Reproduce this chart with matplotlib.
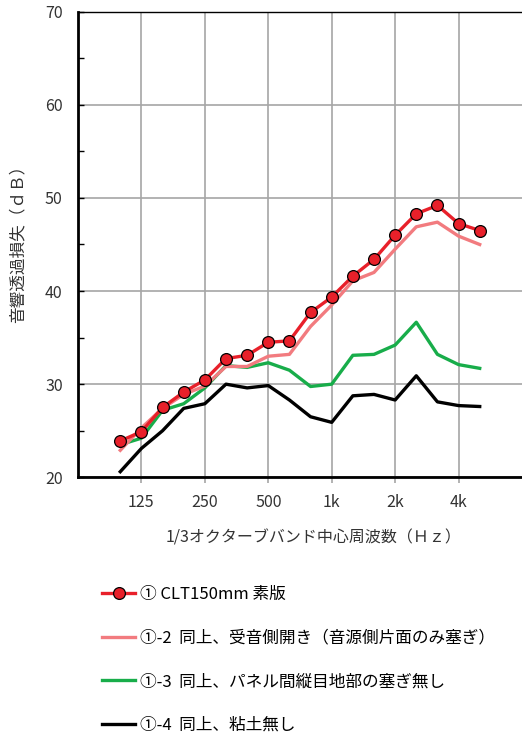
import matplotlib
matplotlib.use('Agg')
import matplotlib.pyplot as plt
from matplotlib.ticker import MultipleLocator

plt.rcParams['font.family'] = ['Noto Sans CJK JP', 'DejaVu Sans']

# 1/3 octave bands 100 Hz .. 5 kHz
bands = ['100', '125', '160', '200', '250', '315', '400', '500', '630', '800',
         '1k', '1.25k', '1.6k', '2k', '2.5k', '3.15k', '4k', '5k']
tick_labels = ['125', '250', '500', '1k', '2k', '4k']

tl_plain = [23.9, 24.9, 27.5, 29.15, 30.45, 32.75, 33.1, 34.5, 34.65, 37.7,
            39.35, 41.6, 43.4, 46.0, 48.3, 49.2, 47.25, 46.5]
tl_open = [22.9, 25.3, 27.4, 28.9, 29.8, 31.9, 31.9, 33.0, 33.2, 36.2,
           38.5, 41.1, 42.0, 44.5, 46.9, 47.4, 45.9, 45.0]
tl_nojoint = [23.5, 24.2, 27.2, 27.9, 29.6, 32.0, 31.8, 32.3, 31.5, 29.75,
              30.0, 33.1, 33.2, 34.2, 36.65, 33.2, 32.1, 31.7]
tl_noclay = [20.6, 23.1, 25.0, 27.4, 27.9, 30.0, 29.6, 29.85, 28.3, 26.5,
             25.9, 28.75, 28.9, 28.3, 30.9, 28.1, 27.7, 27.6]

labels = ['① CLT150mm 素版',
          '①-2  同上、受音側開き（音源側片面のみ塞ぎ）',
          '①-3  同上、パネル間縦目地部の塞ぎ無し',
          '①-4  同上、粘土無し']

x = list(range(len(bands)))
tick_pos = [bands.index(t) for t in tick_labels]

fig = plt.figure(figsize=(5.22, 7.37), dpi=100)
ax = fig.add_axes([0.1494, 0.3524, 0.8506, 0.6317])

ax.plot(x, tl_plain, color='#e8202a', lw=2.4, marker='o', markersize=8.5,
        markerfacecolor='#e8202a', markeredgecolor='black', markeredgewidth=0.9,
        label=labels[0], zorder=5)
ax.plot(x, tl_open, color='#f27b7f', lw=2.4, label=labels[1], zorder=4)
ax.plot(x, tl_nojoint, color='#18ad4a', lw=2.4, label=labels[2], zorder=3)
ax.plot(x, tl_noclay, color='black', lw=2.4, label=labels[3], zorder=2)

ax.set_xlim(-2, 19)
ax.set_ylim(20, 70)
ax.set_xticks(tick_pos)
ax.set_xticklabels(tick_labels)
ax.yaxis.set_major_locator(MultipleLocator(10))
ax.yaxis.set_minor_locator(MultipleLocator(5))

ax.grid(True, which='major', color='#a6a6a6', lw=1.2)
ax.set_axisbelow(True)

ax.tick_params(axis='x', direction='out', length=4, width=1.2, color='#a6a6a6',
               labelsize=11.5, labelcolor='#333333', pad=8)
ax.tick_params(axis='y', which='major', direction='in', length=4, width=1,
               labelsize=11.5, labelcolor='#333333', pad=11)
ax.tick_params(axis='y', which='minor', direction='in', length=4, width=1)

for side in ['left', 'bottom']:
    ax.spines[side].set_linewidth(2)
ax.spines['top'].set_linewidth(1)
ax.spines['right'].set_visible(False)

ax.set_xlabel('1/3オクターブバンド中心周波数（Ｈｚ）', fontsize=11.5, color='#333333',
              labelpad=13)
ax.xaxis.label.set_x(0.53)
ax.set_ylabel('音響透過損失（ｄＢ）', fontsize=12, color='#333333', labelpad=13)
ax.yaxis.label.set_y(0.51)

fig.legend(loc='upper left', bbox_to_anchor=(0.1954, 0.205), frameon=False,
           fontsize=12, handlelength=2.0, handletextpad=0.3, labelspacing=1.6,
           borderaxespad=0, borderpad=0)

fig.savefig('out.png', dpi=100)
